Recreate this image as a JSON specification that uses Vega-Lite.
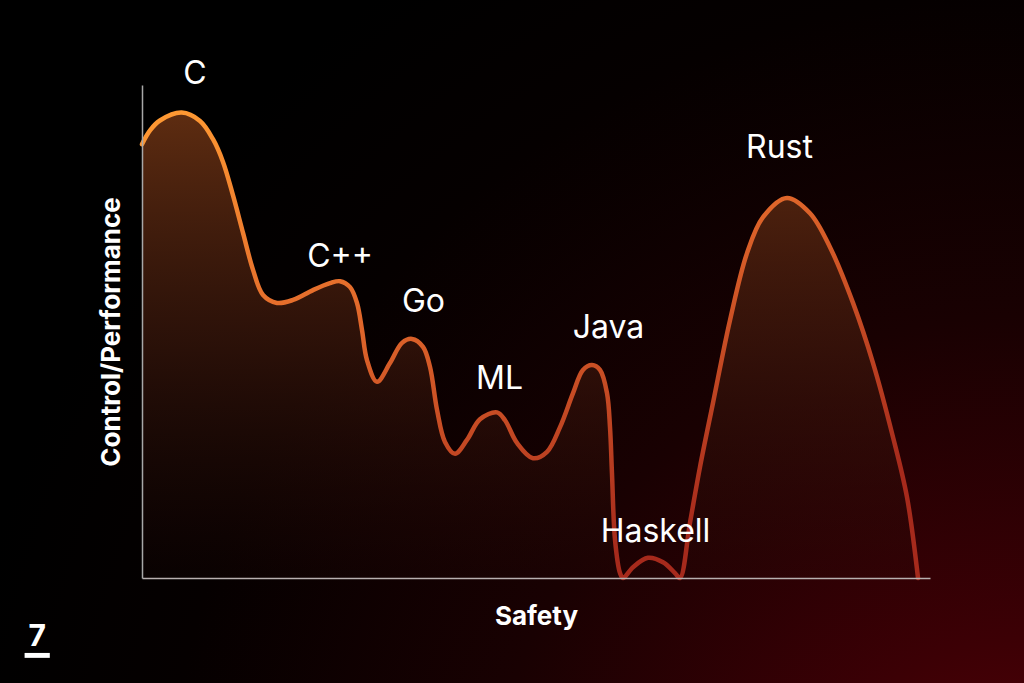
{
  "$schema": "https://vega.github.io/schema/vega-lite/v6.json",
  "autosize": "none",
  "width": 788,
  "height": 493,
  "padding": {"left": 142, "top": 85, "right": 94, "bottom": 105},
  "background": "#000000",
  "config": {"view": {"stroke": null}, "font": "Inter"},
  "datasets": {
    "curve": [
      {"safety": 0, "control": 88.0},
      {"safety": 1.02, "control": 90.8},
      {"safety": 2.28, "control": 92.8},
      {"safety": 5.04, "control": 94.4},
      {"safety": 7.36, "control": 92.7},
      {"safety": 9.01, "control": 89.0},
      {"safety": 10.28, "control": 84.4},
      {"safety": 11.55, "control": 77.6},
      {"safety": 12.82, "control": 70.0},
      {"safety": 14.09, "control": 62.5},
      {"safety": 15.36, "control": 57.4},
      {"safety": 17.13, "control": 55.8},
      {"safety": 19.16, "control": 56.4},
      {"safety": 21.7, "control": 58.4},
      {"safety": 23.86, "control": 59.8},
      {"safety": 25.13, "control": 60.2},
      {"safety": 26.4, "control": 59.0},
      {"safety": 27.28, "control": 55.8},
      {"safety": 27.92, "control": 50.3},
      {"safety": 28.55, "control": 44.2},
      {"safety": 29.82, "control": 39.8},
      {"safety": 31.47, "control": 43.6},
      {"safety": 33.0, "control": 47.7},
      {"safety": 34.26, "control": 48.5},
      {"safety": 35.66, "control": 46.9},
      {"safety": 36.55, "control": 42.8},
      {"safety": 37.44, "control": 34.1},
      {"safety": 38.45, "control": 27.6},
      {"safety": 39.72, "control": 25.2},
      {"safety": 41.24, "control": 28.0},
      {"safety": 42.89, "control": 32.2},
      {"safety": 45.05, "control": 33.6},
      {"safety": 46.07, "control": 32.0},
      {"safety": 47.59, "control": 27.4},
      {"safety": 49.62, "control": 24.3},
      {"safety": 51.4, "control": 25.6},
      {"safety": 53.05, "control": 30.6},
      {"safety": 54.7, "control": 37.5},
      {"safety": 55.96, "control": 42.2},
      {"safety": 57.11, "control": 43.2},
      {"safety": 58.12, "control": 42.2},
      {"safety": 59.01, "control": 37.5},
      {"safety": 59.39, "control": 30.6},
      {"safety": 59.64, "control": 21.3},
      {"safety": 60.03, "control": 7.7},
      {"safety": 60.66, "control": 1.0},
      {"safety": 61.04, "control": 0},
      {"safety": 62.31, "control": 2.2},
      {"safety": 64.21, "control": 4.1},
      {"safety": 66.12, "control": 3.2},
      {"safety": 67.64, "control": 1.0},
      {"safety": 68.27, "control": 0},
      {"safety": 69.54, "control": 11.2},
      {"safety": 70.81, "control": 22.5},
      {"safety": 72.46, "control": 35.5},
      {"safety": 74.62, "control": 52.3},
      {"safety": 76.78, "control": 65.9},
      {"safety": 78.81, "control": 73.2},
      {"safety": 81.85, "control": 77.1},
      {"safety": 84.77, "control": 74.0},
      {"safety": 87.31, "control": 67.1},
      {"safety": 90.23, "control": 55.8},
      {"safety": 92.77, "control": 43.6},
      {"safety": 95.3, "control": 28.6},
      {"safety": 97.08, "control": 16.4},
      {"safety": 98.48, "control": 0}
    ],
    "labels": [
      {"lang": "C", "safety": 6.73, "control": 100.2},
      {"lang": "C++", "safety": 25.13, "control": 63.1},
      {"lang": "Go", "safety": 35.72, "control": 53.95},
      {"lang": "ML", "safety": 45.37, "control": 38.34},
      {"lang": "Java", "safety": 59.2, "control": 48.7},
      {"lang": "Haskell", "safety": 65.17, "control": 7.3},
      {"lang": "Rust", "safety": 80.9, "control": 85.2}
    ],
    "logo": [
      {"glyph": "7", "safety": -13.3, "control": -13.8}
    ],
    "logobar": [
      {"left": -14.9, "right": -11.7, "bottom": -16.2, "top": -15.2}
    ]
  },
  "layer": [
    {
      "data": {"values": [{}]},
      "mark": {
        "type": "rect",
        "clip": false,
        "fill": {
          "gradient": "radial",
          "x1": 1, "y1": 1, "r1": 0,
          "x2": 1, "y2": 1, "r2": 1.05,
          "stops": [
            {"offset": 0, "color": "#5a0008"},
            {"offset": 0.2, "color": "#3c0005"},
            {"offset": 0.5, "color": "#190102"},
            {"offset": 0.8, "color": "#050000"},
            {"offset": 1, "color": "#000000"}
          ]
        }
      },
      "encoding": {
        "x": {"value": -142},
        "x2": {"value": 882},
        "y": {"value": -85},
        "y2": {"value": 598}
      }
    },
    {
      "data": {"name": "curve"},
      "mark": {
        "type": "area",
        "interpolate": "catmull-rom",
        "fill": {
          "gradient": "linear",
          "x1": 0, "y1": 0, "x2": 0, "y2": 1,
          "stops": [
            {"offset": 0, "color": "rgba(110,52,20,0.85)"},
            {"offset": 0.5, "color": "rgba(75,30,15,0.55)"},
            {"offset": 1, "color": "rgba(40,10,8,0.15)"}
          ]
        }
      },
      "encoding": {
        "x": {"field": "safety", "type": "quantitative", "scale": {"domain": [0, 100], "nice": false, "zero": false},
          "axis": {"title": "Safety", "labels": false, "ticks": false, "grid": false, "zindex": 2, "domainColor": "#b8b0b0", "domainWidth": 1.5,
            "titleColor": "#ffffff", "titleFont": "Inter", "titleFontSize": 26, "titleFontWeight": "bold", "titlePadding": 25}},
        "y": {"field": "control", "type": "quantitative", "scale": {"domain": [0, 100], "nice": false, "zero": false},
          "axis": {"title": "Control/Performance", "labels": false, "ticks": false, "grid": false, "zindex": 2, "domainColor": "#a8a8a8", "domainWidth": 1.5,
            "titleColor": "#ffffff", "titleFont": "Inter", "titleFontSize": 26, "titleFontWeight": "bold", "titlePadding": 18}}
      }
    },
    {
      "data": {"name": "curve"},
      "mark": {
        "type": "line",
        "interpolate": "catmull-rom",
        "strokeWidth": 4.5,
        "strokeCap": "round",
        "stroke": {
          "gradient": "linear",
          "x1": 0, "y1": 0, "x2": 0.5, "y2": 1,
          "stops": [
            {"offset": 0, "color": "#ff9a33"},
            {"offset": 0.45, "color": "#e2692b"},
            {"offset": 1, "color": "#a62a1c"}
          ]
        }
      },
      "encoding": {
        "x": {"field": "safety", "type": "quantitative"},
        "y": {"field": "control", "type": "quantitative"}
      }
    },
    {
      "data": {"name": "labels"},
      "mark": {"type": "text", "font": "Inter", "fontSize": 32, "color": "#ffffff", "align": "center", "baseline": "alphabetic"},
      "encoding": {
        "x": {"field": "safety", "type": "quantitative"},
        "y": {"field": "control", "type": "quantitative"},
        "text": {"field": "lang"}
      }
    },
    {
      "data": {"name": "logo"},
      "mark": {"type": "text", "font": "Inter", "fontWeight": "bold", "fontSize": 30, "color": "#ffffff", "align": "center", "baseline": "alphabetic"},
      "encoding": {
        "x": {"field": "safety", "type": "quantitative"},
        "y": {"field": "control", "type": "quantitative"},
        "text": {"field": "glyph"}
      }
    },
    {
      "data": {"name": "logobar"},
      "mark": {"type": "rect", "color": "#ffffff", "clip": false},
      "encoding": {
        "x": {"field": "left", "type": "quantitative"},
        "x2": {"field": "right"},
        "y": {"field": "bottom", "type": "quantitative"},
        "y2": {"field": "top"}
      }
    }
  ]
}
